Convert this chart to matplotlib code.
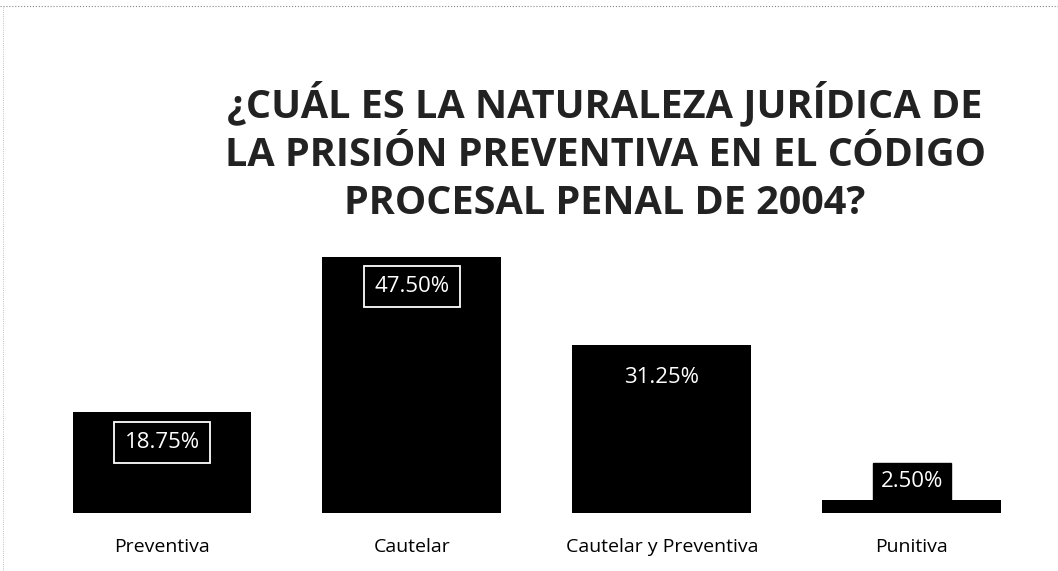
import matplotlib.pyplot as plt
import numpy as np

# data
categories = ['Preventiva', 'Cautelar', 'Cautelar y Preventiva', 'Punitiva']
values = [18.75, 47.50, 31.25, 2.50]
labels = ['18.75%', '47.50%', '31.25%', '2.50%']

title = '¿CUÁL ES LA NATURALEZA JURÍDICA DE\nLA PRISIÓN PREVENTIVA EN EL CÓDIGO\nPROCESAL PENAL DE 2004?'

fnt = ['Open Sans', 'DejaVu Sans']

fig = plt.figure(figsize=(10.58, 5.71), dpi=100)
fig.patch.set_facecolor('white')
ax = fig.add_axes([0.035, 0.1016, 0.945, 0.472])

x = np.arange(len(categories))
ax.bar(x, values, width=0.716, color='black')
ax.set_xlim(-0.5, 3.5)
ax.set_ylim(0, 50)

for s in ax.spines.values():
    s.set_visible(False)
ax.set_yticks([])
ax.set_xticks(x)
ax.set_xticklabels(categories, fontsize=14, family=fnt)
ax.tick_params(axis='x', length=0, pad=18)

# value labels
boxed = dict(boxstyle='square,pad=0.45', fc='black', ec='white', lw=1.3)
plain = dict(boxstyle='square,pad=0.35', fc='black', ec='black', lw=0)
ax.text(x[0], values[0] - 5.6, labels[0], ha='center', va='center', color='white',
        fontsize=16, bbox=boxed, family=fnt)
ax.text(x[1], values[1] - 5.5, labels[1], ha='center', va='center', color='white',
        fontsize=16, bbox=boxed, family=fnt)
ax.text(x[2], values[2] - 6.2, labels[2], ha='center', va='center', color='white',
        fontsize=16, bbox=plain, family=fnt)
ax.text(x[3], values[3] + 3.3, labels[3], ha='center', va='center', color='white',
        fontsize=16, bbox=dict(boxstyle='square,pad=0.36', fc='black', ec='black'),
        family=fnt)

fig.text(0.572, 0.734, title, ha='center', va='center', fontsize=28.5, fontweight='bold',
         color='#222222', linespacing=1.3, family=fnt)

# faint scan border
fig.add_artist(plt.Line2D([0, 1], [0.99, 0.99], color='#888888', lw=0.8, ls=':'))
fig.add_artist(plt.Line2D([0.003, 0.003], [0.0, 0.99], color='#aaaaaa', lw=0.6, ls=':'))

fig.savefig('out.png', dpi=100, facecolor='white')
